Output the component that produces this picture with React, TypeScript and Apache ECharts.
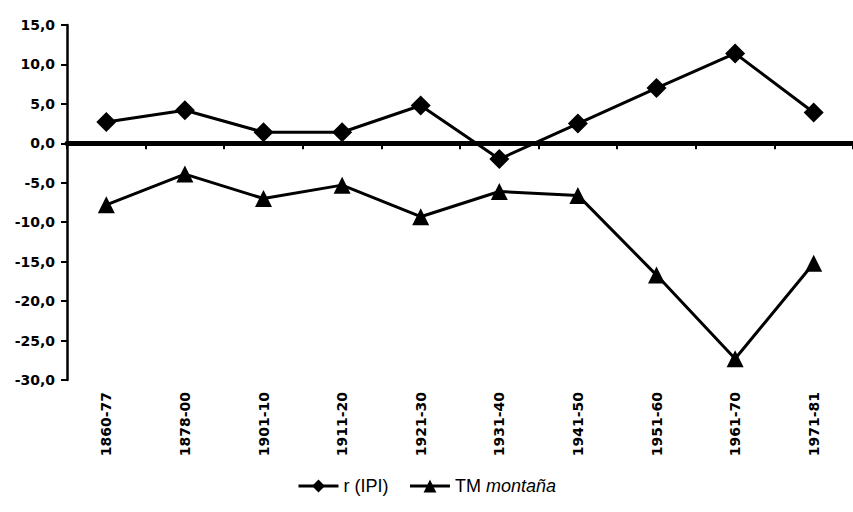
import React, { useEffect, useRef } from "react";
import * as echarts from "echarts";

const categories = [
  "1860-77",
  "1878-00",
  "1901-10",
  "1911-20",
  "1921-30",
  "1931-40",
  "1941-50",
  "1951-60",
  "1961-70",
  "1971-81",
];

const rIPI = [2.7, 4.2, 1.4, 1.4, 4.8, -2.0, 2.5, 7.0, 11.4, 3.9];
const tmMontana = [-7.8, -3.9, -7.0, -5.3, -9.3, -6.1, -6.6, -16.7, -27.3, -15.2];

const yTickValues = [-30, -25, -20, -15, -10, -5, 0, 5, 10, 15];
const yTickLabels = ["-30,0", "-25,0", "-20,0", "-15,0", "-10,0", "-5,0", "0,0", "5,0", "10,0", "15,0"];

const seriesNames = ["r (IPI)", "TM montaña"];

export default function App() {
  const ref = useRef<HTMLDivElement>(null);

  useEffect(() => {
    if (!ref.current) return;
    const chart = echarts.init(ref.current, null, { renderer: "svg" });
    const font = "'Liberation Sans', Arial, sans-serif";
    const axisFont = "'DejaVu Sans', sans-serif";
    chart.setOption({
      animation: false,
      backgroundColor: "#ffffff",
      textStyle: { fontFamily: font, color: "#000" },
      grid: { left: 67, top: 25, bottom: 132, right: -6, containLabel: false },
      legend: {
        bottom: 12,
        left: "center",
        itemWidth: 40,
        itemHeight: 16,
        itemGap: 20,
        lineStyle: { width: 3, color: "#000" },
        textStyle: {
          fontFamily: font,
          fontSize: 18,
          color: "#000",
          rich: { i: { fontFamily: font, fontSize: 18, fontStyle: "italic", color: "#000" } },
        },
        formatter: (name: string) => (name === "TM montaña" ? "TM {i|montaña}" : name),
        data: seriesNames,
      },
      xAxis: [
        {
          type: "category",
          data: categories,
          boundaryGap: true,
          position: "bottom",
          axisLine: { show: false, onZero: false },
          axisTick: { show: false },
          axisLabel: {
            rotate: 90,
            margin: 12,
            fontFamily: axisFont,
            fontSize: 14,
            fontWeight: "bold",
            color: "#000",
          },
          splitLine: { show: false },
        },
        {
          type: "category",
          data: categories,
          boundaryGap: true,
          position: "bottom",
          axisLine: { show: true, onZero: true, lineStyle: { color: "#000", width: 5 } },
          axisTick: { show: true, length: 6, lineStyle: { color: "#000", width: 2 } },
          axisLabel: { show: false },
          splitLine: { show: false },
        },
      ],
      yAxis: {
        type: "value",
        min: -30,
        max: 15,
        interval: 5,
        axisLine: { show: true, lineStyle: { color: "#000", width: 2.5 } },
        axisTick: { show: true, length: 6, lineStyle: { color: "#000", width: 2 } },
        splitLine: { show: false },
        axisLabel: {
          margin: 12,
          fontFamily: axisFont,
          fontSize: 14,
          fontWeight: "bold",
          color: "#000",
          formatter: (v: number) => {
            const i = yTickValues.indexOf(v);
            return i >= 0 ? yTickLabels[i] : "";
          },
        },
      },
      series: [
        {
          name: seriesNames[0],
          type: "line",
          xAxisIndex: 0,
          data: rIPI,
          symbol: "diamond",
          symbolSize: 20,
          lineStyle: { color: "#000", width: 3 },
          itemStyle: { color: "#000" },
        },
        {
          name: seriesNames[1],
          type: "line",
          xAxisIndex: 0,
          data: tmMontana,
          symbol: "triangle",
          symbolSize: 17,
          lineStyle: { color: "#000", width: 3 },
          itemStyle: { color: "#000" },
        },
      ],
    });
    return () => chart.dispose();
  }, []);

  return <div ref={ref} style={{ width: 853, height: 512, position: "absolute", left: 0, top: 0 }} />;
}
